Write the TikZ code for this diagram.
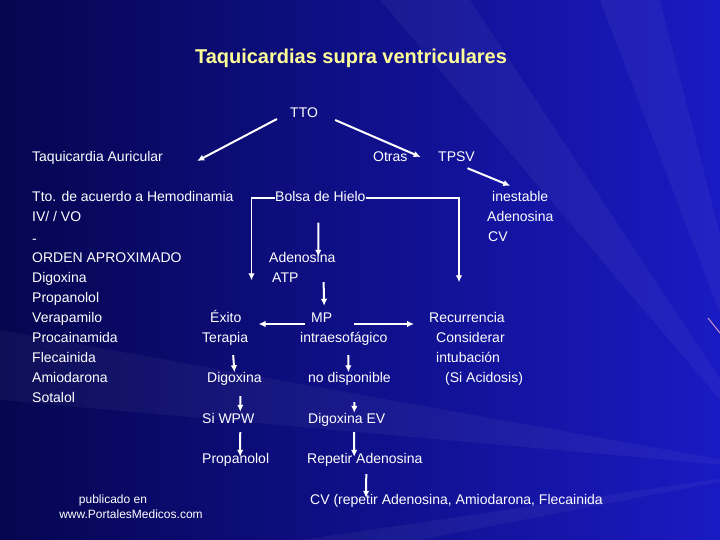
\documentclass[tikz,border=0pt]{standalone}
\usepackage{fontspec}
\setmainfont{Liberation Sans}
\usetikzlibrary{arrows.meta}
\definecolor{bgdark}{RGB}{5,5,80}
\definecolor{bgmid}{RGB}{14,14,140}
\definecolor{bglight}{RGB}{26,26,195}
\definecolor{ttlyellow}{RGB}{255,255,153}
\begin{document}
\begin{tikzpicture}[x=1pt, y=-1pt, >={Latex[length=7pt,width=6.5pt]},
      txt/.style={text=white, inner sep=0pt, anchor=west, text height=10pt, text depth=3pt, font=\fontsize{14}{16}\selectfont},
      small/.style={text=white, inner sep=0pt, text height=9pt, text depth=2.5pt, font=\fontsize{12}{14}\selectfont},
      ttl/.style={text=ttlyellow, inner sep=0pt, font=\fontsize{20}{24}\selectfont\bfseries},
      arr/.style={->, white, line width=2pt},
      brk/.style={->, white, line width=1.3pt},
      streak/.style={white, opacity=0.045}]
    \useasboundingbox (0,0) rectangle (720,540);
    \shade[left color=bgdark, middle color=bgmid, right color=bglight] (0,0) rectangle (720,540);
    \fill[streak] (780,470) -- (380,0) -- (470,0) -- cycle;
    \fill[streak] (780,470) -- (600,0) -- (660,0) -- cycle;
    \fill[streak] (780,470) -- (0,330) -- (0,400) -- cycle;
    \fill[streak] (780,470) -- (300,540) -- (420,540) -- cycle;
    \draw[violet!40, line width=1pt] (708,318) -- (720,333);
    % title
    \node[ttl] (ttl) at (351,58) {Taquicardias supra ventriculares};
    % top level
    \node[txt] (tto) at (290,114) {TTO};
    \node[txt] (auric) at (32,158) {Taquicardia Auricular};
    \node[txt] (otras) at (373,158) {Otras};
    \node[txt] (tpsv) at (438,158) {TPSV};
    % left column
    \node[txt] (hemo) at (32,198) {Tto. de acuerdo a Hemodinamia};
    \node[txt] (ivvo) at (32,218) {IV/ / VO};
    \node[txt] (dash) at (32,240) {-};
    \node[txt] (orden) at (32,259) {ORDEN APROXIMADO};
    \node[txt] (digA) at (32,279) {Digoxina};
    \node[txt] (propA) at (32,299) {Propanolol};
    \node[txt] (vera) at (32,319) {Verapamilo};
    \node[txt] (proc) at (32,339) {Procainamida};
    \node[txt] (flec) at (32,359) {Flecainida};
    \node[txt] (amio) at (32,379) {Amiodarona};
    \node[txt] (sota) at (32,399) {Sotalol};
    % TPSV branch
    \node[txt] (hielo) at (275,198) {Bolsa de Hielo};
    \node[txt] (inest) at (492,198) {inestable};
    \node[txt] (adenB) at (487,218) {Adenosina};
    \node[txt] (cvB) at (488,238) {CV};
    \node[txt] (adenA) at (269,259) {Adenosina};
    \node[txt] (atp) at (272,279) {ATP};
    \node[txt] (exito) at (210,319) {Éxito};
    \node[txt] (terap) at (202,339) {Terapia};
    \node[txt] (mp) at (311,319) {MP};
    \node[txt] (intra) at (300,339) {intraesofágico};
    \node[txt] (recur) at (429,319) {Recurrencia};
    \node[txt] (consid) at (436,339) {Considerar};
    \node[txt] (intub) at (436,359) {intubación};
    \node[txt] (acid) at (445,379) {(Si Acidosis)};
    \node[txt] (digC) at (207,379) {Digoxina};
    \node[txt] (nodisp) at (308,379) {no disponible};
    \node[txt] (wpw) at (202,420) {Si WPW};
    \node[txt] (digev) at (308,420) {Digoxina EV};
    \node[txt] (propC) at (202,460) {Propanolol};
    \node[txt] (repet) at (307,460) {Repetir Adenosina};
    \node[txt] (cvC) at (310,501) {CV (repetir Adenosina, Amiodarona, Flecainida};
    % footer
    \node[small] (pub) at (113,500) {publicado en};
    \node[small] (web) at (131,515) {www.PortalesMedicos.com};
    % connectors
    \draw[arr] ([xshift=-13pt,yshift=-5pt]tto.west) -- ([xshift=34pt,yshift=-3pt]auric.east);
    \draw[arr] ([xshift=17pt,yshift=-6pt]tto.east) -- ([xshift=13pt,yshift=1pt]otras.east);
    \draw[arr] ([xshift=11pt,yshift=-3.5pt]tpsv.south) -- ([xshift=-10pt,yshift=5.5pt]inest.north);
    \draw[brk] (hielo.west) -| ([xshift=10pt,yshift=32pt]exito.north east);
    \draw[brk] (hielo.east) -| ([xshift=30pt,yshift=30pt]recur.north west);
    \draw[arr] ([xshift=-2pt,yshift=-18pt]hielo.south) -- ([xshift=16pt,yshift=-4.5pt]adenA.north);
    \draw[arr] ([xshift=25pt,yshift=3.5pt]atp.south east) -- ([xshift=2.5pt,yshift=6.5pt]mp.north);
    \draw[arr] ([xshift=-6pt,yshift=-5pt]mp.west) -- ([xshift=17pt,yshift=-5pt]exito.east);
    \draw[arr] ([xshift=22pt,yshift=-5pt]mp.east) -- ([xshift=-15pt,yshift=-5pt]recur.west);
    \draw[arr] ([xshift=8pt,yshift=-9.5pt]terap.south) -- (digC.north);
    \draw[arr] ([xshift=4.5pt,yshift=-9.5pt]intra.south) -- ([xshift=-1pt]nodisp.north);
    \draw[arr] ([xshift=6pt,yshift=-10.5pt]digC.south) -- ([xshift=12pt,yshift=1.5pt]wpw.north);
    \draw[arr] ([xshift=5pt,yshift=-16.5pt]nodisp.south) -- ([xshift=7.5pt,yshift=0.5pt]digev.north);
    \draw[arr] ([xshift=12pt,yshift=-5.5pt]wpw.south) -- ([xshift=4.5pt,yshift=-3.5pt]propC.north);
    \draw[arr] ([xshift=7.5pt,yshift=-5.5pt]digev.south) -- ([xshift=-10.6pt,yshift=-3.5pt]repet.north);
    \draw[arr] ([xshift=1.5pt,yshift=-7.5pt]repet.south) -- ([xshift=56pt,yshift=-3.5pt]cvC.north west);
  \end{tikzpicture}
\end{document}
